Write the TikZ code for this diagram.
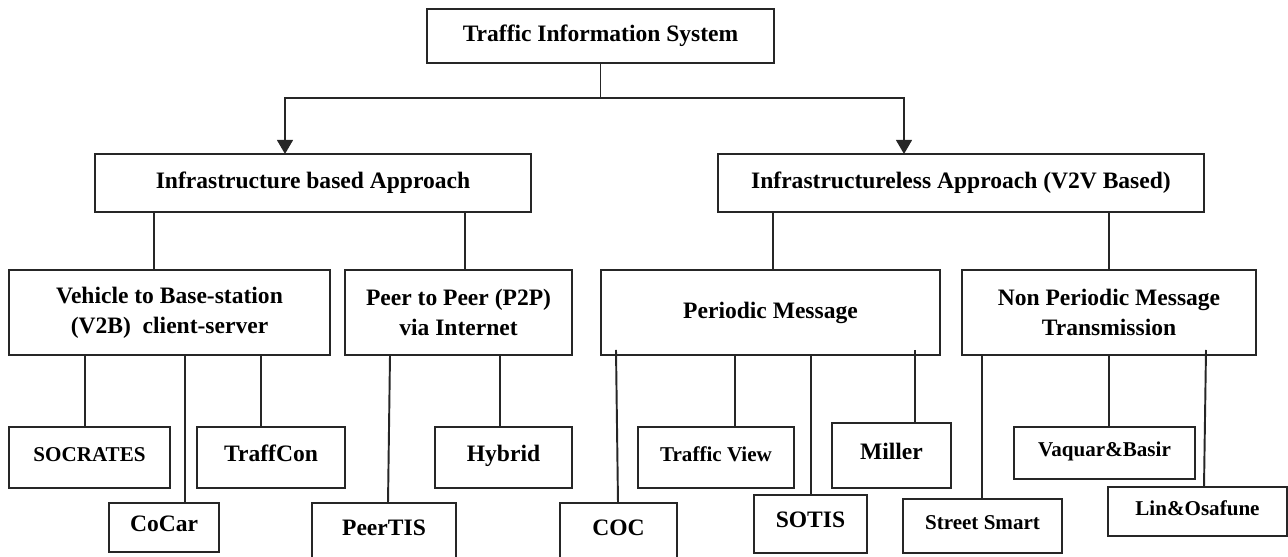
\documentclass[tikz,border=0pt]{standalone}
\usepackage{fontspec}
\setmainfont{Liberation Serif}
\usepackage{tikz}
\usetikzlibrary{arrows.meta, positioning}

\begin{document}
\begin{tikzpicture}[x=0.02cm, y=-0.02cm, every node/.style={font=\bfseries\fontsize{13.4pt}{17pt}\selectfont}]

\tikzset{
  box/.style={rectangle, draw=black!85, line width=1.1pt, inner sep=0pt, outer sep=0pt, align=center},
  leaf/.style={box, text height=9pt, text depth=4.6pt},
  smallleaf/.style={leaf, font=\bfseries\fontsize{12pt}{15pt}\selectfont},
  openleaf/.style={box, text height=9pt, text depth=18pt},
  link/.style={draw=black!85, line width=1.1pt},
  arrow/.style={link, -{Triangle[width=9pt,length=8pt]}}
}

\useasboundingbox (0,0) rectangle (1288,557);
\clip (0,0) rectangle (1288,557);

% Root and approaches
\node (tis) [box, minimum width=6.94cm, minimum height=1.08cm] at (600.5,36) {Traffic Information System};
\node (infra) [box, minimum width=8.74cm, minimum height=1.16cm] at (313,183) {Infrastructure based Approach};
\node (infraless) [box, minimum width=9.72cm, minimum height=1.16cm] at (961,183) {Infrastructureless Approach (V2V Based)};

% Categories
\node (v2b) [box, minimum width=6.42cm, minimum height=1.7cm] at (169.5,312.5) {Vehicle to Base-station\\(V2B)~~client-server};
\node (p2p) [box, minimum width=4.54cm, minimum height=1.7cm] at (458.5,312.5) {Peer to Peer (P2P)\\via Internet};
\node (periodic) [box, minimum width=6.78cm, minimum height=1.7cm] at (770.5,312.5) {Periodic Message};
\node (nonper) [box, minimum width=5.88cm, minimum height=1.7cm] at (1109,312.5) {Non Periodic Message\\Transmission};

% Systems
\node (socrates) [smallleaf, minimum width=3.22cm, minimum height=1.22cm] at (89.5,457.5) {SOCRATES};
\node (traffcon) [leaf, minimum width=2.96cm, minimum height=1.22cm] at (271,457.5) {TraffCon};
\node (cocar) [leaf, minimum width=2.2cm, minimum height=0.98cm] at (164,527.5) {CoCar};
\node (hybrid) [leaf, minimum width=2.74cm, minimum height=1.22cm] at (503.5,457.5) {Hybrid};
\node (peertis) [openleaf, minimum width=2.88cm, minimum height=1.6cm] at (384,543) {PeerTIS};
\node (coc) [openleaf, minimum width=2.34cm, minimum height=1.6cm] at (618.5,543) {COC};
\node (trafficview) [smallleaf, minimum width=3.12cm, minimum height=1.22cm] at (716,457.5) {Traffic View};
\node (sotis) [leaf, minimum width=2.26cm, minimum height=1.16cm] at (810.5,524) {SOTIS};
\node (miller) [leaf, minimum width=2.38cm, minimum height=1.3cm] at (891.5,455.5) {Miller};
\node (streetsmart) [smallleaf, minimum width=3.18cm, minimum height=1.08cm] at (982.5,526) {Street Smart};
\node (vaquar) [smallleaf, minimum width=3.62cm, minimum height=1.04cm] at (1104.5,453) {Vaquar\&Basir};
\node (lin) [smallleaf, minimum width=3.58cm, minimum height=0.98cm] at (1197.5,511.5) {Lin\&Osafune};

% Arrows
\coordinate (split) at (600.5,98);
\draw [link] (tis) -- (split);
\draw [arrow] (split) -| (285,0 |- infra.north);
\draw [arrow] (split) -| (904,0 |- infraless.north);

% Links
\foreach \p/\c/\x in {infra/v2b/154, infra/p2p/465, infraless/periodic/773, infraless/nonper/1109,
    v2b/socrates/85, v2b/cocar/185, v2b/traffcon/261, p2p/hybrid/500,
    periodic/trafficview/735, periodic/sotis/811, nonper/streetsmart/982, nonper/vaquar/1109}
  \draw [link] (\x,0 |- \p.south) -- (\x,0 |- \c.north);
\draw [link] (390,0 |- p2p.south) -- (388,0 |- peertis.north);
\draw [link] ([yshift=0.1cm]616,0 |- periodic.south) -- (618,0 |- coc.north);
\draw [link] ([yshift=0.1cm]915,0 |- periodic.south) -- (915,0 |- miller.north);
\draw [link] ([yshift=0.1cm]1206,0 |- nonper.south) -- (1204,0 |- lin.north);

\end{tikzpicture}
\end{document}
